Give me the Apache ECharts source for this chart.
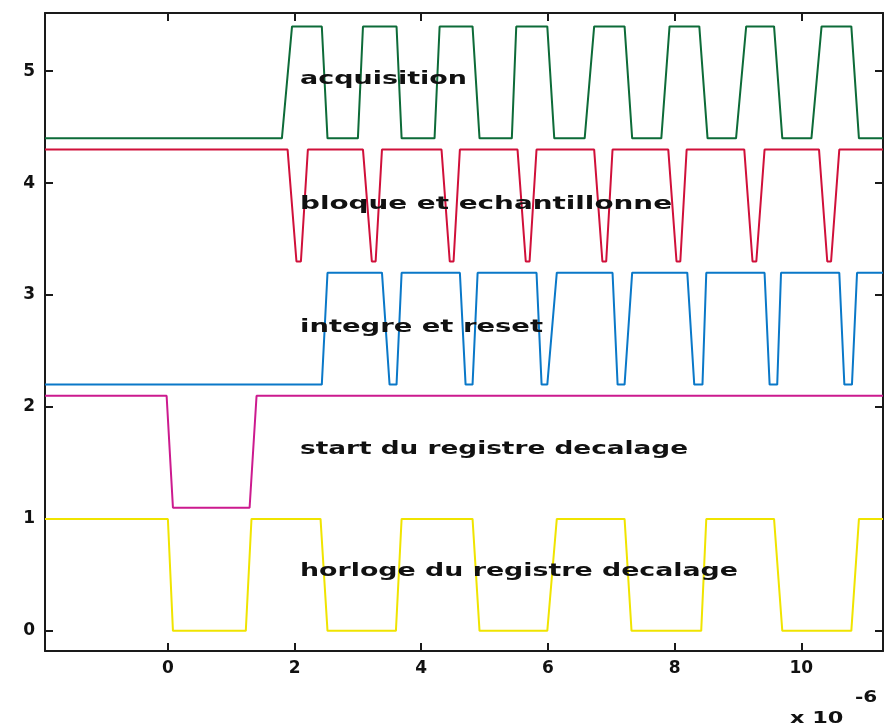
<!DOCTYPE html>
<html>
<head>
<meta charset="utf-8">
<script src="https://cdn.jsdelivr.net/npm/echarts@6/dist/echarts.min.js"></script>
<style>
  html, body { margin: 0; padding: 0; background: #ffffff; }
  #chart { width: 885px; height: 726px; }
</style>
</head>
<body>
<div id="chart"></div>
<script>
// Timing diagram of the shift-register readout (time in units of 1e-6 s).
// Each signal is a list of [time, level] vertices; edges have a finite rise/fall time.

const xTicks = [0, 2, 4, 6, 8, 10];
const yTicks = [0, 1, 2, 3, 4, 5];

const acquisition = [
  [-1.94, 4.4], [1.80, 4.4], [1.96, 5.4], [2.43, 5.4], [2.52, 4.4],
  [3.00, 4.4], [3.08, 5.4], [3.61, 5.4], [3.69, 4.4],
  [4.21, 4.4], [4.29, 5.4], [4.81, 5.4], [4.92, 4.4],
  [5.43, 4.4], [5.50, 5.4], [5.99, 5.4], [6.10, 4.4],
  [6.58, 4.4], [6.73, 5.4], [7.21, 5.4], [7.33, 4.4],
  [7.79, 4.4], [7.92, 5.4], [8.39, 5.4], [8.52, 4.4],
  [8.97, 4.4], [9.13, 5.4], [9.57, 5.4], [9.70, 4.4],
  [10.16, 4.4], [10.32, 5.4], [10.79, 5.4], [10.91, 4.4], [11.29, 4.4]
];

const bloqueEchantillonne = [
  [-1.94, 4.3], [1.89, 4.3], [2.03, 3.3], [2.10, 3.3], [2.21, 4.3],
  [3.08, 4.3], [3.22, 3.3], [3.28, 3.3], [3.38, 4.3],
  [4.32, 4.3], [4.45, 3.3], [4.51, 3.3], [4.61, 4.3],
  [5.52, 4.3], [5.65, 3.3], [5.71, 3.3], [5.82, 4.3],
  [6.73, 4.3], [6.86, 3.3], [6.92, 3.3], [7.02, 4.3],
  [7.90, 4.3], [8.03, 3.3], [8.09, 3.3], [8.19, 4.3],
  [9.10, 4.3], [9.23, 3.3], [9.29, 3.3], [9.42, 4.3],
  [10.28, 4.3], [10.41, 3.3], [10.47, 3.3], [10.60, 4.3], [11.29, 4.3]
];

const integreReset = [
  [-1.94, 2.2], [2.43, 2.2], [2.52, 3.2],
  [3.38, 3.2], [3.50, 2.2], [3.61, 2.2], [3.69, 3.2],
  [4.61, 3.2], [4.70, 2.2], [4.81, 2.2], [4.89, 3.2],
  [5.82, 3.2], [5.90, 2.2], [5.99, 2.2], [6.14, 3.2],
  [7.02, 3.2], [7.10, 2.2], [7.21, 2.2], [7.33, 3.2],
  [8.20, 3.2], [8.31, 2.2], [8.44, 2.2], [8.50, 3.2],
  [9.42, 3.2], [9.50, 2.2], [9.62, 2.2], [9.68, 3.2],
  [10.60, 3.2], [10.68, 2.2], [10.80, 2.2], [10.88, 3.2], [11.29, 3.2]
];

const startRegistre = [
  [-1.94, 2.1], [-0.02, 2.1], [0.08, 1.1], [1.29, 1.1], [1.40, 2.1], [11.29, 2.1]
];

const horlogeRegistre = [
  [-1.94, 1], [0.00, 1], [0.08, 0], [1.23, 0], [1.32, 1],
  [2.41, 1], [2.52, 0], [3.60, 0], [3.69, 1],
  [4.81, 1], [4.92, 0], [5.99, 0], [6.14, 1],
  [7.21, 1], [7.32, 0], [8.42, 0], [8.50, 1],
  [9.57, 1], [9.70, 0], [10.79, 0], [10.91, 1], [11.29, 1]
];

const signalNames = [
  'acquisition',
  'bloque et echantillonne',
  'integre et reset',
  'start du registre decalage',
  'horloge du registre decalage'
];
const signalData = [acquisition, bloqueEchantillonne, integreReset, startRegistre, horlogeRegistre];
const signalColors = ['#0d6b38', '#d0103a', '#0a78c8', '#cc1a8e', '#f0e400'];

// label placement (left edge, vertical centre) and rendered width in px
const labelPos = [
  [300, 79, 167], [300, 204, 372], [300, 327, 243], [300, 449, 388], [300, 571, 438]
];

const labelFont = 'bold 18px "DejaVu Sans"';
const measureCtx = document.createElement('canvas').getContext('2d');
measureCtx.font = labelFont;

const axisColor = '#1a1a1a';
const tickLabelStyle = { color: '#111', fontFamily: 'DejaVu Sans', fontWeight: 'bold', fontSize: 17 };

const chart = echarts.init(document.getElementById('chart'), null, { renderer: 'canvas' });

const labelGraphics = signalNames.map((name, i) => {
  const w = measureCtx.measureText(name).width;
  return {
    type: 'text',
    x: labelPos[i][0],
    y: labelPos[i][1],
    scaleX: labelPos[i][2] / w,
    z: 100,
    style: {
      text: name,
      font: labelFont,
      fill: '#111',
      textAlign: 'left',
      textVerticalAlign: 'middle'
    }
  };
});

labelGraphics.push(
  {
    type: 'text', x: 790, y: 719, z: 100,
    style: { text: 'x 10', font: 'bold 16px "DejaVu Sans"', fill: '#111', textAlign: 'left', textVerticalAlign: 'middle' },
    scaleX: 1.4
  },
  {
    type: 'text', x: 855, y: 698, z: 100,
    style: { text: '-6', font: 'bold 16px "DejaVu Sans"', fill: '#111', textAlign: 'left', textVerticalAlign: 'middle' },
    scaleX: 1.25
  }
);

const boxAxisLine = { show: true, onZero: false, lineStyle: { color: axisColor, width: 2 } };
const boxTick = { show: true, inside: true, length: 8, lineStyle: { color: axisColor, width: 2 } };

chart.setOption({
  animation: false,
  backgroundColor: '#ffffff',
  grid: { left: 45, right: 2, top: 13, bottom: 75, containLabel: false },
  xAxis: [
    {
      type: 'value', min: -1.94, max: 11.29, position: 'bottom',
      axisLine: boxAxisLine,
      axisTick: Object.assign({ customValues: xTicks }, boxTick),
      axisLabel: Object.assign({ customValues: xTicks, margin: 9 }, tickLabelStyle),
      splitLine: { show: false }
    },
    {
      type: 'value', min: -1.94, max: 11.29, position: 'top',
      axisLine: boxAxisLine,
      axisTick: Object.assign({ customValues: xTicks }, boxTick),
      axisLabel: { show: false },
      splitLine: { show: false }
    }
  ],
  yAxis: [
    {
      type: 'value', min: -0.18, max: 5.52, position: 'left',
      axisLine: boxAxisLine,
      axisTick: Object.assign({ customValues: yTicks }, boxTick),
      axisLabel: Object.assign({ customValues: yTicks, margin: 10 }, tickLabelStyle),
      splitLine: { show: false }
    },
    {
      type: 'value', min: -0.18, max: 5.52, position: 'right',
      axisLine: boxAxisLine,
      axisTick: Object.assign({ customValues: yTicks }, boxTick),
      axisLabel: { show: false },
      splitLine: { show: false }
    }
  ],
  series: signalData.map((d, i) => ({
    name: signalNames[i],
    type: 'line',
    data: d,
    xAxisIndex: 0,
    yAxisIndex: 0,
    showSymbol: false,
    symbol: 'none',
    lineStyle: { color: signalColors[i], width: 2 },
    clip: true
  })),
  graphic: labelGraphics
});
</script>
</body>
</html>
